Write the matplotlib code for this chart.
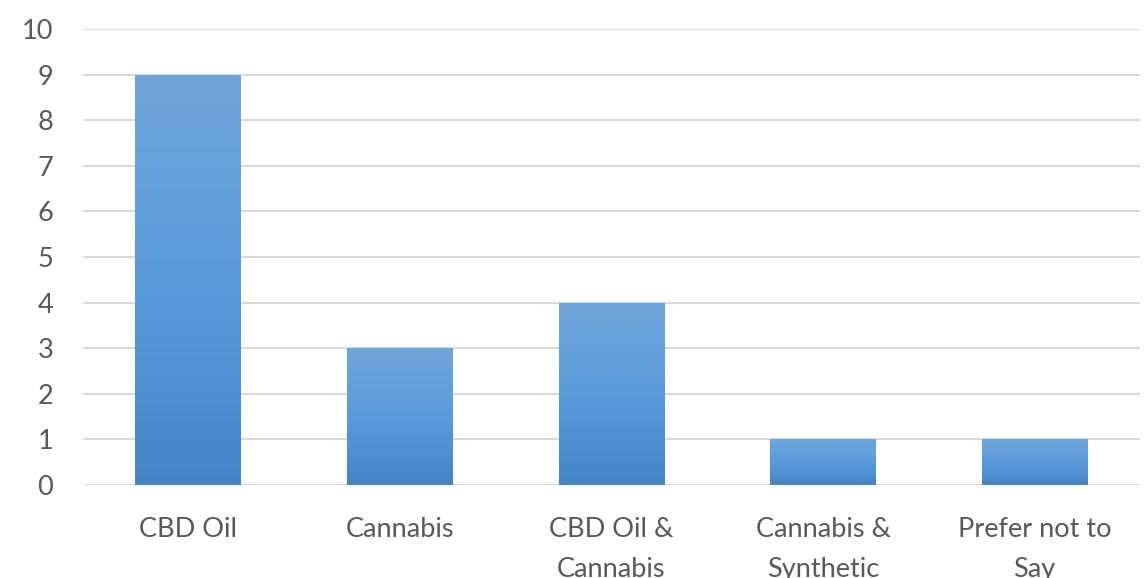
import matplotlib
matplotlib.use("Agg")
import matplotlib.pyplot as plt
import numpy as np
from matplotlib.colors import LinearSegmentedColormap

categories = ["CBD Oil", "Cannabis", "CBD Oil &\nCannabis", "Cannabis &\nSynthetic", "Prefer not to\nSay"]
values = [9, 3, 4, 1, 1]
yticks = [0, 1, 2, 3, 4, 5, 6, 7, 8, 9, 10]

plt.rcParams['font.family'] = ['Lato', 'DejaVu Sans']
fig = plt.figure(figsize=(11.46, 5.78), dpi=100)
ax = fig.add_axes([0.072, 0.161, 0.923, 0.789])

x = np.arange(len(categories))
bars = ax.bar(x, values, width=0.5, color="#5B9BD5", zorder=2)

cmap = LinearSegmentedColormap.from_list("g", ["#4386C8", "#5A9BDA", "#70A6DA"])
grad = np.linspace(0, 1, 256).reshape(-1, 1)
for b in bars:
    x0, y0 = b.get_x(), b.get_y()
    w, h = b.get_width(), b.get_height()
    im = ax.imshow(grad, cmap=cmap, origin="lower", aspect="auto",
                   extent=[x0, x0 + w, y0, y0 + h], zorder=3)
    im.set_clip_path(b)

ax.set_xlim(-0.5, len(categories) - 0.5)
ax.set_ylim(0, 10)
ax.set_yticks(yticks)
ax.set_xticks(x)
ax.set_xticklabels(categories, fontsize=19.5, color="#595959", linespacing=1.75)
ax.tick_params(axis='y', labelsize=19.5, labelcolor="#595959", length=0, pad=21)
ax.tick_params(axis='x', length=0, pad=23)
ax.grid(axis='y', color="#D9D9D9", linewidth=1.5, zorder=0)
ax.set_axisbelow(True)
for s in ax.spines.values():
    s.set_visible(False)

fig.savefig("out.png", dpi=100)
